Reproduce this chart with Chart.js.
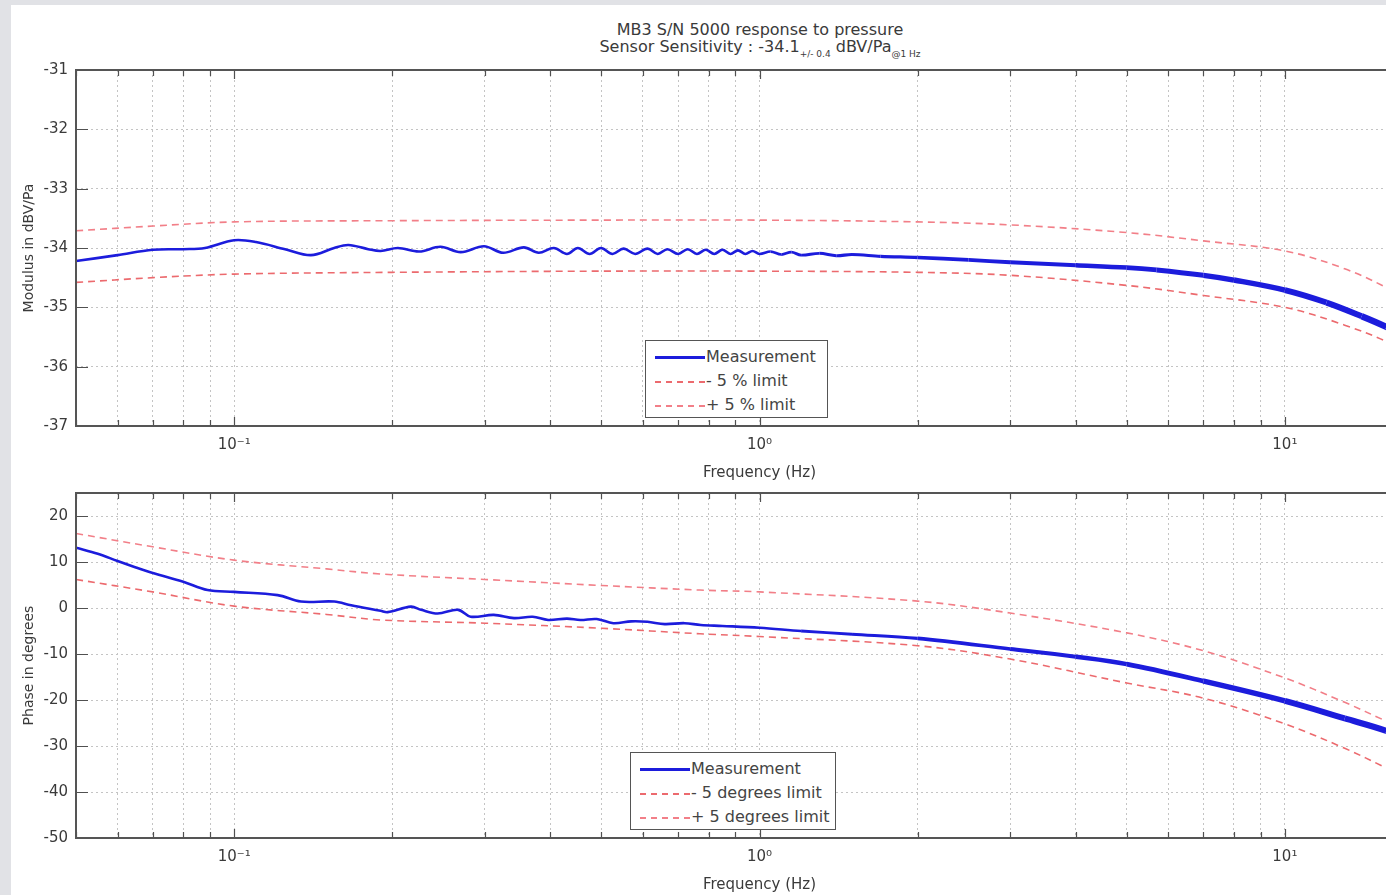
<!DOCTYPE html>
<html>
<head>
<meta charset="utf-8">
<script src="https://cdn.jsdelivr.net/npm/chart.js@4.4.1/dist/chart.umd.min.js"></script>
<style>
  html, body { margin: 0; padding: 0; }
  body { width: 1386px; height: 895px; overflow: hidden; position: relative; background: #e1e2e6; font-family: "DejaVu Sans", sans-serif; color: #3a3a3a; }
  #sheet { position: absolute; left: 11px; top: 5px; right: 0; bottom: 0; background: #fff; }
  canvas { position: absolute; left: 0; }
  #title { position: absolute; left: 540px; width: 440px; top: 21px; text-align: center; font-size: 16px; line-height: 17px; color: #3a3a3a; }
  #title sub { font-size: 9px; vertical-align: -5px; }
  .legend { position: absolute; background: #fff; border: 1px solid #555; font-size: 16px; color: #444; padding-top: 4px; box-sizing: border-box; }
  .legend .row { height: 24px; line-height: 24px; white-space: nowrap; }
  .legend .sample { display: inline-block; width: 50px; margin: 0 1px 0 9px; vertical-align: middle; }
</style>
</head>
<body>
<div id="sheet"></div>
<div id="title">
  <div>MB3 S/N 5000 response to pressure</div>
  <div>Sensor Sensitivity : -34.1<sub>+/- 0.4</sub> dBV/Pa<sub>@1 Hz</sub></div>
</div>
<canvas id="modChart" width="1460" height="490" style="top:0px"></canvas>
<canvas id="phaseChart" width="1460" height="465" style="top:430px"></canvas>
<div class="legend" id="modLegend" style="left:645px;top:340px;width:183px;height:78px"></div>
<div class="legend" id="phaseLegend" style="left:630px;top:752px;width:206px;height:78px"></div>

<script>
// x axis ticks (log scale, Hz)
const xTicks = [0.05, 0.06, 0.07, 0.08, 0.09, 0.1, 0.2, 0.3, 0.4, 0.5, 0.6, 0.7, 0.8, 0.9,
  1, 2, 3, 4, 5, 6, 7, 8, 9, 10, 20];
const xTickLabels = { "0.1": "10⁻¹", "1": "10⁰", "10": "10¹" };

// modulus (dBV/Pa)
const modTicks = [-37, -36, -35, -34, -33, -32, -31];
const modFreq = [0.05, 0.06, 0.07, 0.08, 0.088, 0.1, 0.11, 0.125, 0.14, 0.155, 0.165, 0.18, 0.19, 0.205, 0.225,
  0.247, 0.27, 0.299, 0.325, 0.356, 0.38, 0.406, 0.43, 0.451, 0.475, 0.499, 0.525, 0.551, 0.58, 0.612,
  0.64, 0.668, 0.7, 0.73, 0.76, 0.79, 0.82, 0.85, 0.88, 0.91, 0.94, 0.97, 1.0, 1.05, 1.1,
  1.15, 1.2, 1.3, 1.4, 1.5, 1.7, 2.0, 2.5, 3.0, 4.0, 5.0, 5.7, 7.0, 8.0, 10, 12, 14, 15.6, 17, 20];
const modMeas = [-34.22, -34.12, -34.03, -34.02, -34.0, -33.87, -33.9, -34.02, -34.12, -34.0, -33.95, -34.02, -34.05, -34.0, -34.06,
  -33.98, -34.07, -33.97, -34.08, -33.99, -34.08, -34.0, -34.1, -34.0, -34.1, -34.0, -34.1, -34.01, -34.1, -34.01,
  -34.1, -34.02, -34.1, -34.02, -34.1, -34.03, -34.1, -34.03, -34.1, -34.04, -34.1, -34.05, -34.1, -34.06, -34.11,
  -34.07, -34.12, -34.09, -34.13, -34.11, -34.14, -34.16, -34.2, -34.24, -34.29, -34.33, -34.37, -34.46, -34.54, -34.71,
  -34.92, -35.15, -35.33, -35.5, -35.9];
const modLimFreq = [0.05, 0.07, 0.1, 0.2, 0.5, 1, 2, 3, 5, 7, 10, 13, 16, 20];
const modLow = [-34.58, -34.5, -34.44, -34.41, -34.39, -34.39, -34.41, -34.46, -34.63, -34.8, -35.0, -35.3, -35.62, -36.1];
const modHigh = [-33.71, -33.63, -33.56, -33.54, -33.53, -33.53, -33.56, -33.61, -33.74, -33.88, -34.05, -34.35, -34.72, -35.25];

// phase (degrees)
const phaseTicks = [-50, -40, -30, -20, -10, 0, 10, 20];
const phaseFreq = [0.05, 0.055, 0.06, 0.065, 0.07, 0.08, 0.089, 0.1, 0.121, 0.134, 0.155, 0.167, 0.19, 0.196, 0.217,
  0.227, 0.244, 0.267, 0.282, 0.312, 0.341, 0.37, 0.396, 0.43, 0.456, 0.49, 0.527, 0.57, 0.612, 0.66,
  0.72, 0.773, 0.85, 1.0, 1.2, 1.5, 2.0, 3.0, 4.0, 5.0, 7.0, 10, 13, 15.6, 20];
const phaseMeas = [13.1, 11.8, 10.2, 8.8, 7.6, 5.7, 3.9, 3.5, 2.8, 1.4, 1.4, 0.6, -0.6, -0.9, 0.3,
  -0.4, -1.2, -0.4, -1.9, -1.5, -2.2, -1.9, -2.6, -2.3, -2.6, -2.4, -3.3, -2.9, -3.0, -3.5,
  -3.3, -3.7, -3.9, -4.3, -5.0, -5.7, -6.6, -8.9, -10.6, -12.2, -15.9, -20.2, -24.0, -26.7, -31.5];
const phaseLimFreq = [0.05, 0.07, 0.1, 0.15, 0.19, 0.3, 0.5, 0.77, 1, 2, 3, 5, 7, 10, 13, 15.6, 20];
const phaseLow = [6.2, 3.5, 0.4, -1.4, -2.6, -3.3, -4.4, -5.6, -6.2, -8.2, -11.1, -16.3, -19.6, -25.2, -30.5, -34.8, -41];
const phaseHigh = [16.2, 13.3, 10.4, 8.5, 7.4, 6.2, 4.9, 3.9, 3.5, 1.5, -1.1, -5.4, -9.3, -15.2, -20.5, -24.6, -30];

const BLUE = "#1c1cdc";
const RED = "#ec6a6e";
const PINK = "#f27f88";
const FONT = "'DejaVu Sans', sans-serif";

const pts = (xs, ys) => xs.map((x, i) => ({ x: x, y: ys[i] }));

// measurement trace gets thicker where it becomes noisy at high frequency
function measWidth(ctx) {
  const f = ctx.p0.parsed.x;
  return f < 1 ? 2.6 : 2.6 + 3.2 * Math.log10(f);
}

const boxPlugin = {
  id: "matlabBox",
  afterDatasetsDraw(chart) {
    const { ctx, chartArea: a, scales } = chart;
    const x = scales.x, y = scales.y;
    ctx.save();
    ctx.strokeStyle = "#505050";
    ctx.lineWidth = 1.2;
    ctx.beginPath();
    x.ticks.forEach(t => {
      const px = Math.round(x.getPixelForValue(t.value)) + 0.5;
      const len = xTickLabels[String(t.value)] ? 9 : 6;
      ctx.moveTo(px, a.bottom); ctx.lineTo(px, a.bottom - len);
      ctx.moveTo(px, a.top); ctx.lineTo(px, a.top + len);
    });
    y.ticks.forEach(t => {
      const py = Math.round(y.getPixelForValue(t.value)) + 0.5;
      ctx.moveTo(a.left, py); ctx.lineTo(a.left + 12, py);
      ctx.moveTo(a.right, py); ctx.lineTo(a.right - 12, py);
    });
    ctx.stroke();
    ctx.lineWidth = 2;
    ctx.strokeStyle = "#555";
    ctx.strokeRect(a.left, a.top, a.right - a.left, a.bottom - a.top);
    ctx.restore();
  }
};

function makeChart(id, cfg) {
  const canvas = document.getElementById(id);
  return new Chart(canvas.getContext("2d"), {
    type: "line",
    data: { datasets: cfg.datasets },
    plugins: [boxPlugin],
    options: {
      responsive: false,
      animation: false,
      devicePixelRatio: 1,
      layout: { padding: { top: cfg.padTop, left: 0, right: canvas.width - 1443, bottom: 0 } },
      plugins: { legend: { display: false }, tooltip: { enabled: false } },
      elements: { point: { radius: 0 }, line: { tension: 0.35 } },
      scales: {
        x: {
          type: "logarithmic",
          min: 0.05,
          max: 20,
          afterBuildTicks: s => { s.ticks = xTicks.map(v => ({ value: v })); },
          afterFit: s => { s.height = cfg.xHeight; },
          grid: { color: "#c4c4c4", lineWidth: 1, drawTicks: false },
          border: { display: false, dash: [2, 3] },
          ticks: {
            autoSkip: false, maxRotation: 0, padding: cfg.xTickPad,
            color: "#3a3a3a", font: { family: FONT, size: 15 },
            callback: v => xTickLabels[String(v)] || ""
          },
          title: {
            display: true, text: "Frequency (Hz)", color: "#3a3a3a",
            font: { family: FONT, size: 15 }, padding: { top: 0, bottom: cfg.xTitlePad }
          }
        },
        y: {
          min: cfg.yMin,
          max: cfg.yMax,
          afterBuildTicks: s => { s.ticks = cfg.yTicks.map(v => ({ value: v })); },
          afterFit: s => { s.width = 76; },
          grid: { color: "#c4c4c4", lineWidth: 1, drawTicks: false },
          border: { display: false, dash: [2, 3] },
          ticks: { padding: 8, color: "#3a3a3a", font: { family: FONT, size: 15 } },
          title: {
            display: true, text: cfg.yTitle, color: "#3a3a3a",
            font: { family: FONT, size: 14 }, padding: { top: 21, bottom: 0 }
          }
        }
      }
    }
  });
}

function buildLegend(elId, datasets) {
  const el = document.getElementById(elId);
  el.innerHTML = datasets.map(d => {
    const style = d.borderDash
      ? "border-top:2px dashed " + d.borderColor
      : "border-top:3px solid " + d.borderColor;
    return '<div class="row"><span class="sample" style="' + style + '"></span>' + d.label + "</div>";
  }).join("");
}

const modSets = [
  { label: "Measurement", data: pts(modFreq, modMeas), borderColor: BLUE, borderWidth: 2.6,
    segment: { borderWidth: measWidth }, order: 0 },
  { label: "- 5 % limit", data: pts(modLimFreq, modLow), borderColor: RED, borderWidth: 1.6, borderDash: [7, 5], order: 1 },
  { label: "+ 5 % limit", data: pts(modLimFreq, modHigh), borderColor: PINK, borderWidth: 1.6, borderDash: [7, 5], order: 1 }
];
const phaseSets = [
  { label: "Measurement", data: pts(phaseFreq, phaseMeas), borderColor: BLUE, borderWidth: 2.6,
    segment: { borderWidth: measWidth }, order: 0 },
  { label: "- 5 degrees limit", data: pts(phaseLimFreq, phaseLow), borderColor: RED, borderWidth: 1.6, borderDash: [7, 5], order: 1 },
  { label: "+ 5 degrees limit", data: pts(phaseLimFreq, phaseHigh), borderColor: PINK, borderWidth: 1.6, borderDash: [7, 5], order: 1 }
];

makeChart("modChart", {
  datasets: modSets, padTop: 70, xHeight: 64, xTickPad: 10, xTitlePad: 8,
  yMin: -37, yMax: -31, yTicks: modTicks, yTitle: "Modulus in dBV/Pa"
});
makeChart("phaseChart", {
  datasets: phaseSets, padTop: 63, xHeight: 57, xTickPad: 10, xTitlePad: 1,
  yMin: -50, yMax: 25, yTicks: phaseTicks, yTitle: "Phase in degrees"
});

buildLegend("modLegend", modSets);
buildLegend("phaseLegend", phaseSets);
</script>
</body>
</html>
